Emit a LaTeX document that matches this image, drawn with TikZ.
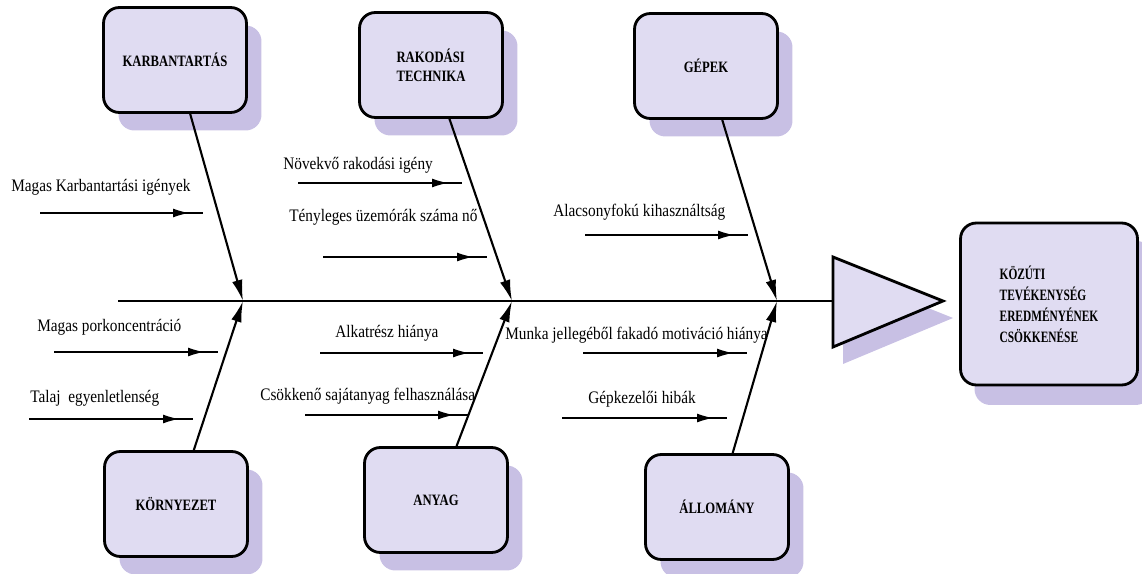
\documentclass[tikz,border=0pt]{standalone}
\usepackage{fontspec}
\usepackage{tikz}
\usetikzlibrary{arrows.meta,decorations.markings,shadows}

\newfontfamily\causefont[FakeStretch=0.87]{Liberation Serif}
\newfontfamily\headfont[FakeStretch=0.8]{Liberation Serif}
\newfontfamily\effectfont[FakeStretch=0.72]{Liberation Serif}

\definecolor{boxfill}{RGB}{224,220,242}
\definecolor{shade}{RGB}{200,192,228}

\tikzset{
  causebox/.style={draw, line width=1.6pt, rounded corners=9pt, fill=boxfill,
    minimum width=2.86cm, minimum height=2.1cm, align=left,
    font=\headfont\bfseries\fontsize{9}{11}\selectfont,
    drop shadow={shadow xshift=0.3cm, shadow yshift=-0.36cm, fill=shade, opacity=1}},
  rib/.style={line width=1.2pt, -{Latex[length=12pt,width=6pt]}},
  sub/.style={line width=0.7pt, postaction={decorate},
    decoration={markings, mark=at position -0.28cm with {\arrow{Latex[length=9pt,width=5pt]}}}},
  subtext/.style={anchor=west, inner sep=0pt, font=\causefont\fontsize{10}{12}\selectfont}
}

\begin{document}
\begin{tikzpicture}[x=0.02cm, y=-0.02cm]
  \useasboundingbox (0,0) rectangle (1142,574);

  % spine and head
  \coordinate (tail) at (118,301);
  \coordinate (tb) at (833,301);
  \coordinate (j1) at (243,301);
  \coordinate (j2) at (512,301);
  \coordinate (j3) at (777,301);
  \draw[line width=1.6pt, fill=boxfill,
    drop shadow={shadow xshift=0.2cm, shadow yshift=-0.34cm, fill=shade, opacity=1}]
    (833,257) -- (943,301) -- (833,347) -- cycle;
  \draw[line width=1.7pt] (tail) -- (tb);

  \node[causebox, minimum width=3.54cm, minimum height=3.24cm,
    drop shadow={shadow xshift=0.28cm, shadow yshift=-0.4cm, fill=shade, opacity=1},
    font=\effectfont\bfseries\fontsize{9}{12}\selectfont]
    (effect) at (1049,304) {KÖZÚTI\\TEVÉKENYSÉG\\EREDMÉNYÉNEK\\CSÖKKENÉSE};

  % main causes
  \node[causebox] (karb) at (175,60) {KARBANTARTÁS};
  \node[causebox] (rakod) at (431,65) {RAKODÁSI\\TECHNIKA};
  \node[causebox] (gepek) at (706,66) {GÉPEK};
  \node[causebox] (korny) at (176,504) {KÖRNYEZET};
  \node[causebox] (anyag) at (436,500) {ANYAG};
  \node[causebox] (allom) at (717,507) {ÁLLOMÁNY};

  \draw[rib] (karb) -- (j1);
  \draw[rib] (rakod) -- (j2);
  \draw[rib] (gepek) -- (j3);
  \draw[rib] (korny) -- (j1);
  \draw[rib] (anyag) -- (j2);
  \draw[rib] (allom) -- (j3);

  % sub-causes
  \node[subtext] (t1) at (11,187) {Magas Karbantartási igények};
  \coordinate (s1a) at (40,213); \coordinate (s1b) at (203,213);
  \draw[sub] (s1a) -- (s1b);

  \node[subtext] (t2) at (37,327) {Magas porkoncentráció};
  \coordinate (s2a) at (54,352); \coordinate (s2b) at (218,352);
  \draw[sub] (s2a) -- (s2b);

  \node[subtext] (t3) at (30,398) {Talaj\ \ egyenletlenség};
  \coordinate (s3a) at (29,419); \coordinate (s3b) at (193,419);
  \draw[sub] (s3a) -- (s3b);

  \node[subtext] (t4) at (283,165) {Növekvő rakodási igény};
  \coordinate (s4a) at (298,183); \coordinate (s4b) at (462,183);
  \draw[sub] (s4a) -- (s4b);

  \node[subtext] (t5) at (289,217) {Tényleges üzemórák száma nő};
  \coordinate (s5a) at (323,257); \coordinate (s5b) at (487,257);
  \draw[sub] (s5a) -- (s5b);

  \node[subtext] (t6) at (335,333) {Alkatrész hiánya};
  \coordinate (s6a) at (320,353); \coordinate (s6b) at (483,353);
  \draw[sub] (s6a) -- (s6b);

  \node[subtext] (t7) at (260,396) {Csökkenő sajátanyag felhasználása};
  \coordinate (s7a) at (305,415); \coordinate (s7b) at (468,415);
  \draw[sub] (s7a) -- (s7b);

  \node[subtext] (t8) at (553,212) {Alacsonyfokú kihasználtság};
  \coordinate (s8a) at (585,235); \coordinate (s8b) at (748,235);
  \draw[sub] (s8a) -- (s8b);

  \node[subtext] (t9) at (505,335) {Munka jellegéből fakadó motiváció hiánya};
  \coordinate (s9a) at (583,353); \coordinate (s9b) at (747,353);
  \draw[sub] (s9a) -- (s9b);

  \node[subtext] (t10) at (588,399) {Gépkezelői hibák};
  \coordinate (s10a) at (562,418); \coordinate (s10b) at (727,418);
  \draw[sub] (s10a) -- (s10b);
\end{tikzpicture}
\end{document}
